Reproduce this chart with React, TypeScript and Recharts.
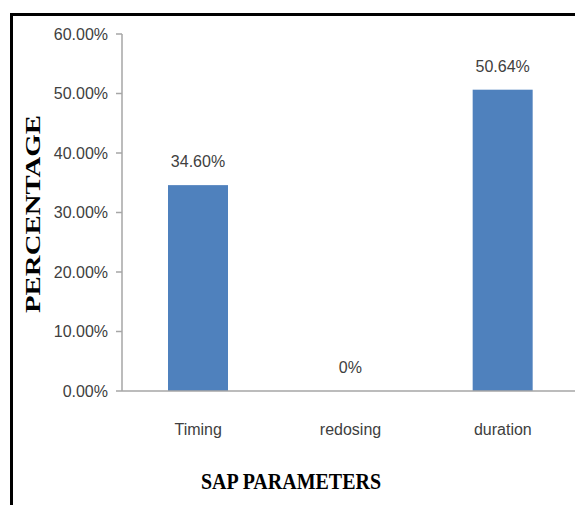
import { BarChart, Bar, XAxis, YAxis } from "recharts";

const categories = ["Timing", "redosing", "duration"];
const values = [34.6, 0, 50.64];
const valueLabels = ["34.60%", "0%", "50.64%"];
const yTicks = [0, 10, 20, 30, 40, 50, 60];

const data = categories.map((name, i) => ({ name, value: values[i], label: valueLabels[i] }));

const tickFont = "'Liberation Sans', Arial, sans-serif";

// draws the bar and its value label (also for the zero bar, which LabelList skips)
function BarWithLabel(props: any) {
  const { x, y, width, height, fill, payload } = props;
  const h = Math.max(0, Number(height) || 0);
  return (
    <g>
      {h > 0 && <rect x={x} y={y} width={width} height={h} fill={fill} />}
      <text
        x={Number(x) + Number(width) / 2}
        y={Number(y) - 18}
        textAnchor="middle"
        fill="#404040"
        fontSize={16}
        fontFamily={tickFont}
      >
        {payload.label}
      </text>
    </g>
  );
}

export default function App() {
  return (
    <div style={{ position: "absolute", left: 0, top: 0, width: 575, height: 505, overflow: "hidden", background: "#fff" }}>
      {/* frame: only top and left edges visible */}
      <div
        style={{
          position: "absolute",
          left: 10,
          top: 13,
          width: 600,
          height: 520,
          borderTop: "3px solid #000",
          borderLeft: "3px solid #000",
        }}
      />
      <div style={{ position: "absolute", left: 0, top: 0 }}>
        <BarChart
          width={600}
          height={505}
          data={data}
          margin={{ top: 34, right: 21, left: 0, bottom: 54 }}
          barCategoryGap={0}
        >
          <XAxis
            dataKey="name"
            height={60}
            axisLine={{ stroke: "#a6a6a6", strokeWidth: 1.5 }}
            tickLine={false}
            tick={{ fill: "#404040", fontSize: 16, fontFamily: tickFont }}
            tickMargin={27}
          />
          <YAxis
            width={122}
            domain={[0, 60]}
            ticks={yTicks}
            interval={0}
            axisLine={{ stroke: "#a6a6a6", strokeWidth: 1.5 }}
            tickLine={{ stroke: "#a6a6a6", strokeWidth: 1.5 }}
            tickSize={6}
            tickMargin={8}
            tick={{ fill: "#404040", fontSize: 16, fontFamily: tickFont }}
            tickFormatter={(v: number) => v.toFixed(2) + "%"}
          />
          <Bar dataKey="value" fill="#4f81bd" barSize={60} shape={BarWithLabel} isAnimationActive={false} />
        </BarChart>
      </div>
      <svg width={575} height={505} style={{ position: "absolute", left: 0, top: 0, pointerEvents: "none" }}>
        <text
          x={0}
          y={0}
          transform="translate(40,214) rotate(-90)"
          textAnchor="middle"
          fontFamily="'Liberation Serif', 'Times New Roman', serif"
          fontWeight="bold"
          fontSize={22}
          textLength={198}
          lengthAdjust="spacingAndGlyphs"
          fill="#000"
        >
          PERCENTAGE
        </text>
        <text
          x={291}
          y={489}
          textAnchor="middle"
          fontFamily="'Liberation Serif', 'Times New Roman', serif"
          fontWeight="bold"
          fontSize={24}
          textLength={180}
          lengthAdjust="spacingAndGlyphs"
          fill="#000"
        >
          SAP PARAMETERS
        </text>
      </svg>
    </div>
  );
}
